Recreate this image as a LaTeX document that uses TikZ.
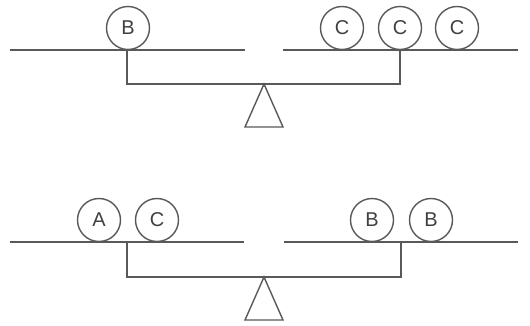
\documentclass[tikz,border=0pt]{standalone}
\usepackage{fontspec}
\setmainfont{Liberation Sans}
\begin{document}
\begin{tikzpicture}[x=1pt,y=-1pt,
  ln/.style={draw=black!65, line width=1.4pt},
  ball/.style={circle, draw=black!65, line width=1.4pt, minimum size=43pt, inner sep=0pt,
    text=black!75, font=\fontsize{20}{20}\selectfont},
  fulcrum/.style={draw=black!65, line width=1.4pt, fill=white, line join=miter}]
\useasboundingbox (0,0) rectangle (530,326);
% ---------- top balance ----------
\coordinate (tL1) at (10,50); \coordinate (tL2) at (245,50);
\coordinate (tR1) at (283,50); \coordinate (tR2) at (518,50);
\coordinate (tA) at (127,50); \coordinate (tB) at (400,50);
\coordinate (tA2) at (127,84); \coordinate (tB2) at (400,84);
\coordinate (tP) at (264,84); \coordinate (tQ) at (245,127); \coordinate (tS) at (283,127);
\draw[ln] (tL1) -- (tL2);
\draw[ln] (tR1) -- (tR2);
\draw[ln] (tA) -- (tA2) -- (tB2) -- (tB);
\draw[fulcrum] (tP) -- (tQ) -- (tS) -- cycle;
\node[ball] (b1) at (128,28) {B};
\node[ball] (c1) at (342,28) {C};
\node[ball] (c2) at (400,28) {C};
\node[ball] (c3) at (457,28) {C};
% ---------- bottom balance ----------
\coordinate (bL1) at (10,242); \coordinate (bL2) at (244,242);
\coordinate (bR1) at (284,242); \coordinate (bR2) at (518,242);
\coordinate (bA) at (127,242); \coordinate (bB) at (401,242);
\coordinate (bA2) at (127,277); \coordinate (bB2) at (401,277);
\coordinate (bP) at (264,277); \coordinate (bQ) at (245,320); \coordinate (bS) at (283,320);
\draw[ln] (bL1) -- (bL2);
\draw[ln] (bR1) -- (bR2);
\draw[ln] (bA) -- (bA2) -- (bB2) -- (bB);
\draw[fulcrum] (bP) -- (bQ) -- (bS) -- cycle;
\node[ball] (a) at (99,220) {A};
\node[ball] (c4) at (157,220) {C};
\node[ball] (b2) at (372,220) {B};
\node[ball] (b3) at (431,220) {B};
\end{tikzpicture}
\end{document}
